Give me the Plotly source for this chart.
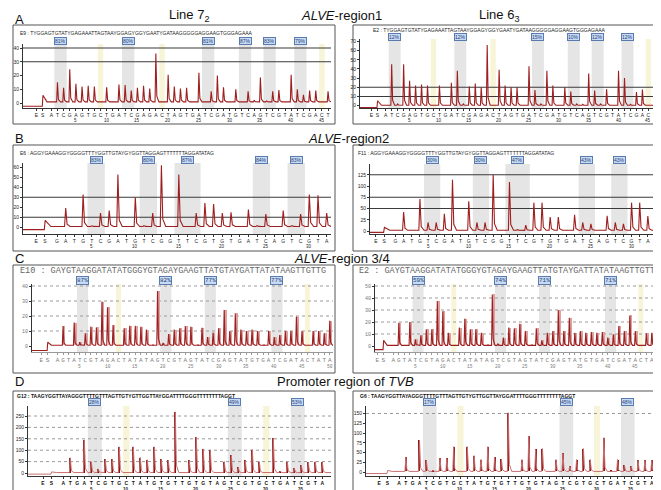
import plotly.graph_objects as go

W, H = 661, 490

# ---------------- data ----------------
disp_A = "ATCGAGTGCTGATCGAGACTAGTGATCGATGTCAGTCGTATCGACT"
disp_B = "GATGTCGATGTCGGTTCGTGTGATCAGTCGTA"
disp_C = "AGTATCGTAGACTATATAGTCGTAGTATCGAGTATGTGATCGATACTATA"
disp_D = "ATGATCGTGCTATGTGTTGTGTAGTCGTGCTGATCGTA"

peaks_A_72 = [0, 15, 11, 24.5, 14, 12, 12.5, 12, 0, 11.5, 0, 13.5, 13, 9, 11, 12.5, 10.5, 36, 0, 20.5,
              12, 10.5, 11, 0, 22, 0.5, 8.5, 20, 11.5, 0, 10, 0, 8.5, 2, 18.5, 1.5, 8.5, 9.5, 0, 20.5,
              10, 6, 9, 9, 0, 8.5]
peaks_A_63 = [0, 45, 2, 45, 27, 22, 23, 22, 0, 22, 0, 25, 38, 2, 21, 24, 20, 66, 0, 39,
              22, 20, 20, 0, 43, 17, 2, 38, 22, 0, 20, 15.5, 2, 1.5, 35, 16.5, 2, 18, 0, 38,
              30, 1.5, 15, 17.5, 0, 16.5]
peaks_B_72 = [0, 19.3, 0, 32.7, 1.5, 14.3, 16.7, 52.7, 0, 30, 1.7, 14.3, 62, 0, 52.7, 1.5, 14.3, 24.3, 23.3, 14.3,
              15, 0, 17.7, 1.7, 13.3, 0, 16.7, 1.7, 13.3, 32.7, 32, 14.3]
peaks_B_63 = [0, 42, 0, 71, 19, 19, 38, 114, 0, 66, 19, 19, 125, 0, 109, 3, 13, 63, 63, 31,
              31, 0, 36, 19, 16, 0, 34, 19, 16, 63, 63, 33]
peaks_C_72 = [0, 13.3, 0, 15.6, 2.5, 8.4, 12.9, 12.4, 29.6, 25.8, 14, 0, 11.8, 13.5, 13.5, 12.9, 11, 1, 36.7, 2,
              8, 11, 11.8, 13.3, 12.9, 1, 12.2, 6, 8.9, 11.8, 24, 10, 21.8, 11, 10, 11, 10, 1, 10, 6,
              7.3, 10, 10, 19.6, 10, 0, 10, 10, 8.4, 16.9]
peaks_C_63 = [0, 19.4, 0, 20, 5.5, 9, 13.9, 13.9, 37.5, 29, 11, 0, 15.3, 22.8, 13.9, 13.9, 11, 1, 43, 2,
              7, 15.3, 14.7, 18.6, 12.5, 1, 14.7, 4.7, 11, 12.5, 30, 12.5, 23.6, 11, 12.5, 11, 11.7, 11, 11.7, 7,
              9.7, 16.7, 12.5, 25.5, 12.5, 0, 10.5, 11, 9.7, 16.7]
peaks_D_72 = [0, 67, 0, 145, 50, 18, 60, 60, 115, 0, 115, 68, 58, 115, 60, 57, 268, 0, 55, 158,
              105, 100, 0, 50, 78, 25, 55, 103, 50, 0, 152, 8, 48, 22, 35, 48, 50, 48]
peaks_D_63 = [0, 38, 0, 82, 30, 5, 35, 35, 65, 0, 65, 42, 32, 65, 38, 33, 152, 0, 32, 92,
              58, 60, 0, 32, 48, 15, 32, 60, 32, 0, 88, 3, 32, 18, 15, 30, 30, 30]

# baseline before run, substrate (S) step peak, baseline after
start_A_72 = [-2.4, 5.6, 0.8]
start_A_63 = [-2, 5.4, 0.5]
start_B_72 = [-2.3, 7, 0.8]
start_B_63 = [-3, 8, 1.5]
start_C_72 = [-3, 2.5, 0.5]
start_C_63 = [-3, 4.7, 0.5]
start_D_72 = [-5, 5, 2]
start_D_63 = [-4, 4, 1.5]

cpg_A = [(2, 3), (13, 14), (26, 27), (32, 33), (36, 37), (41, 42)]
ctrl_A = [9, 19, 45]
cpg_B = [(5, 6), (11, 12), (15, 17), (24, 25), (28, 29)]
ctrl_B = []
cpg_C = [(5, 6), (20, 21), (28, 29), (40, 41)]
ctrl_C = [12, 46]
cpg_D = [(5, 6), (25, 26), (34, 35)]
ctrl_D = [10, 30]

pct_A_72 = ["81%", "80%", "81%", "87%", "83%", "79%"]
pct_A_63 = ["12%", "12%", "15%", "10%", "12%", "12%"]
pct_B_72 = ["83%", "80%", "87%", "84%", "83%"]
pct_B_63 = ["30%", "30%", "47%", "43%", "43%"]
pct_C_72 = ["87%", "82%", "77%", "77%"]
pct_C_63 = ["59%", "74%", "71%", "71%"]
pct_D_72 = ["28%", "49%", "53%"]
pct_D_63 = ["17%", "45%", "48%"]

seq_A_72 = "E9 : TYGGAGTGTATYGAGAAATTAGTAAYGGAGYGGYGAATYGATAAGGGGGAGGAAGTGGGAGAAA"
seq_A_63 = "E2 : TYGGAGTGTATYGAGAAATTAGTAAYGGAGYGGYGAATYGATAAGGGGGAGGAAGTGGGAGAAA"
seq_B_72 = "E6 : AGGYGAAAGGYGGGGTTTYGGTTGTAYGYGGTTAGGAGTTTTTTTAGGATATAG"
seq_B_63 = "F11 : AGGYGAAAGGYGGGGTTTYGGTTGTAYGYGGTTAGGAGTTTTTTTAGGATATAG"
seq_C_72 = "E10 : GAYGTAAGGATATATGGGYGTAGAYGAAGTTATGTAYGATTATATAAGTTGTTG"
seq_C_63 = "E2 : GAYGTAAGGATATATGGGYGTAGAYGAAGTTATGTAYGATTATATAAGTTGTTG"
seq_D_72 = "G12 : TAAGYGGTTAYAGGGTTTTGTTTAGTTGTYGTTGGTTAYGGATTTTGGGTTTTTTTTAGGT"
seq_D_63 = "G6 : TAAGYGGTTAYAGGGTTTTGTTTAGTTGTYGTTGGTTAYGGATTTTGGGTTTTTTTTAGGT"

yt_A_72 = [0, 10, 20, 30, 40]
yt_A_63 = [0, 10, 20, 30, 40, 50, 60, 70]
yt_B_72 = [0, 10, 20, 30, 40, 50, 60]
yt_B_63 = [0, 25, 50, 75, 100, 125]
yt_C_72 = [0, 10, 20, 30, 40]
yt_C_63 = [0, 10, 20, 30, 40, 50]
yt_D_72 = [0, 50, 100, 150, 200, 250]
yt_D_63 = [0, 25, 50, 75, 100, 125, 150]

lines_A_72 = [30, 40]
lines_A_63 = [10, 20]
lines_B_72 = [10, 30]
lines_B_63 = [50, 75, 125]
lines_C_72 = [10, 20, 30, 40]
lines_C_63 = [10, 20, 30, 40, 50]
lines_D_72 = [50, 100, 150, 200, 250]
lines_D_63 = [150]

nums_A = [5, 10, 15, 20, 25, 30, 35, 40, 45]
nums_B = [5, 10, 15, 20, 25, 30]
nums_C = [5, 10, 15, 20, 25, 30, 35, 40, 45, 50]
nums_D = [5, 10, 15, 20, 25, 30, 35]

# ---------------- layout geometry (pixels) ----------------
panels = [
    dict(disp=disp_A, peaks=peaks_A_72, start=start_A_72, cpg=cpg_A, ctrl=ctrl_A, pct=pct_A_72, seq=seq_A_72,
         yt=yt_A_72, lines=lines_A_72, nums=nums_A, style="AB",
         box=(5, 327, 17, 116), plot=(15, 323, 36, 100), p1=43.3, pitch=6.15, y0=95, ppu=1.375,
         seqxy=(10, 25), pcty=33, numy=112.5, es=(-1.4, -0.4)),
    dict(disp=disp_A, peaks=peaks_A_63, start=start_A_63, cpg=cpg_A, ctrl=ctrl_A, pct=pct_A_63, seq=seq_A_63,
         yt=yt_A_63, lines=lines_A_63, nums=nums_A, style="AB",
         box=(345, 657, 17, 116), plot=(352, 651, 31, 100), p1=377.7, pitch=5.97, y0=97.7, ppu=0.919,
         seqxy=(363, 22), pcty=29, numy=112.5, es=(-1.4, -0.4)),
    dict(disp=disp_B, peaks=peaks_B_72, start=start_B_72, cpg=cpg_B, ctrl=ctrl_B, pct=pct_B_72, seq=seq_B_72,
         yt=yt_B_72, lines=lines_B_72, nums=nums_B, style="AB",
         box=(5, 327, 137, 243), plot=(15, 323, 155, 226), p1=49, pitch=8.7, y0=219.3, ppu=1.0,
         seqxy=(10, 145), pcty=152, numy=238, es=(-1.4, -0.4)),
    dict(disp=disp_B, peaks=peaks_B_63, start=start_B_63, cpg=cpg_B, ctrl=ctrl_B, pct=pct_B_63, seq=seq_B_63,
         yt=yt_B_63, lines=lines_B_63, nums=nums_B, style="AB",
         box=(345, 657, 137, 243), plot=(362, 651, 156, 226), p1=387.5, pitch=8.14, y0=223, ppu=0.45,
         seqxy=(348, 145), pcty=152, numy=238, es=(-1.4, -0.4)),
    dict(disp=disp_C, peaks=peaks_C_72, start=start_C_72, cpg=cpg_C, ctrl=ctrl_C, pct=pct_C_72, seq=seq_C_72,
         yt=yt_C_72, lines=lines_C_72, nums=nums_C, style="C",
         box=(5, 327, 257, 365), plot=(24, 325, 276, 344), p1=49.5, pitch=5.556, y0=338, ppu=1.5,
         seqxy=(10, 263), pcty=272, numy=358, es=(-1.9, -0.8)),
    dict(disp=disp_C, peaks=peaks_C_63, start=start_C_63, cpg=cpg_C, ctrl=ctrl_C, pct=pct_C_63, seq=seq_C_63,
         yt=yt_C_63, lines=lines_C_63, nums=nums_C, style="C",
         box=(345, 657, 257, 365), plot=(367, 654, 276, 344), p1=385.3, pitch=5.5, y0=338, ppu=1.2,
         seqxy=(349, 263), pcty=272, numy=358, es=(-1.9, -0.8)),
    dict(disp=disp_D, peaks=peaks_D_72, start=start_D_72, cpg=cpg_D, ctrl=ctrl_D, pct=pct_D_72, seq=seq_D_72,
         yt=yt_D_72, lines=lines_D_72, nums=nums_D, style="D",
         box=(5, 327, 383, 489), plot=(20, 323, 398, 468), p1=55.3, pitch=7.0, y0=465, ppu=0.228,
         seqxy=(7, 388), pcty=394, numy=481.5, es=(-1.9, -0.7)),
    dict(disp=disp_D, peaks=peaks_D_63, start=start_D_63, cpg=cpg_D, ctrl=ctrl_D, pct=pct_D_63, seq=seq_D_63,
         yt=yt_D_63, lines=lines_D_63, nums=nums_D, style="D",
         box=(345, 657, 383, 489), plot=(358, 652, 398, 468), p1=391, pitch=6.83, y0=464, ppu=0.39,
         seqxy=(350, 388), pcty=394, numy=481.5, es=(-1.9, -0.7)),
]

FONT = "Liberation Sans, Arial, sans-serif"
MONO = "Liberation Mono, Courier New, monospace"
RED = "#9e1f1f"
PINK = "#dfa0a0"


def fx(px):
    return px / W


def fy(py):
    return 1 - py / H


def pyro_xy(peaks, start, s_pos, x_lo, x_hi):
    pre, s_peak, base = start
    xs = [x_lo, s_pos - 0.06, s_pos + 0.04, s_pos + 0.7]
    ys = [pre, pre, s_peak, base]
    for i, h in enumerate(peaks, start=1):
        if h > base + 0.2:
            xs += [i - 0.13, i, i + 0.16, i + 0.5]
            ys += [base, h, base + 0.12 * (h - base), base]
    xs.append(x_hi)
    ys.append(base)
    return xs, ys


fig = go.Figure()
shapes, annotations = [], []
layout_axes = {}

for k, P in enumerate(panels, start=1):
    sx = "" if k == 1 else str(k)
    xref, yref = "x" + sx, "y" + sx
    px0, px1, py0, py1 = P["plot"]
    xr = [(px0 - P["p1"]) / P["pitch"] + 1, (px1 - P["p1"]) / P["pitch"] + 1]
    yr = [(P["y0"] - py1) / P["ppu"], (P["y0"] - py0) / P["ppu"]]
    n = len(P["disp"])
    E, S = P["es"]
    style = P["style"]

    if style == "C":
        tf = dict(family=MONO, size=6, color="#808080")
        tick_color = "#999"
    elif style == "D":
        tf = dict(family=FONT, size=5, color="#111", weight="bold")
        tick_color = "#333"
    else:
        tf = dict(family=FONT, size=5, color="#222")
        tick_color = "#333"

    layout_axes["xaxis" + sx] = dict(
        domain=[fx(px0), fx(px1)], range=xr, anchor=yref, showgrid=False, zeroline=False,
        showline=True, linecolor=tick_color, linewidth=1, ticks="outside", ticklen=2, tickcolor=tick_color,
        tickvals=[E, S] + list(range(1, n + 1)), ticktext=["E", "S"] + list(P["disp"]),
        tickfont=tf, tickangle=0, ticklabelstandoff=0, fixedrange=True)
    layout_axes["yaxis" + sx] = dict(
        domain=[fy(py1), fy(py0)], range=yr, anchor=xref, showgrid=False, zeroline=False,
        showline=True, linecolor="#333", linewidth=1, ticks="outside", ticklen=2, tickcolor="#333",
        tickvals=P["yt"], tickfont=dict(family=MONO if style == "C" else FONT, size=5,
                                        color="#777" if style == "C" else "#222"),
        fixedrange=True)

    # panel frame
    shapes.append(dict(type="rect", xref="paper", yref="paper",
                       x0=fx(P["box"][0]), x1=fx(P["box"][1]), y0=fy(P["box"][3]), y1=fy(P["box"][2]),
                       line=dict(color="#555", width=1), fillcolor="rgba(0,0,0,0)", layer="below"))
    # CpG (grey) and control (yellow) bands
    for (a, b) in P["cpg"]:
        shapes.append(dict(type="rect", xref=xref, yref=yref + " domain", x0=a - 0.5, x1=b + 0.5, y0=0, y1=1,
                           fillcolor="#e5e5e5", line=dict(width=0), layer="below"))
    for c in P["ctrl"]:
        shapes.append(dict(type="rect", xref=xref, yref=yref + " domain", x0=c - 0.45, x1=c + 0.45, y0=0, y1=1,
                           fillcolor="#f8f4d8", line=dict(width=0), layer="below"))
    # horizontal reference lines
    for v in P["lines"]:
        if style == "AB":
            ln = dict(color="#3a3a3a", width=1.1)
        else:
            ln = dict(color="#9a9a9a", width=1, dash="dot")
        shapes.append(dict(type="line", xref=xref + " domain", yref=yref, x0=0, x1=1, y0=v, y1=v,
                           line=ln, layer="below"))

    # pyrogram trace
    xs, ys = pyro_xy(P["peaks"], P["start"], S, xr[0], xr[1])
    if style == "D":
        fig.add_trace(go.Bar(x=list(range(1, n + 1)), y=[max(h - P["start"][2], 0) for h in P["peaks"]],
                             base=P["start"][2], width=0.16, marker=dict(color="#8c1010", line=dict(width=0)),
                             xaxis=xref, yaxis=yref, showlegend=False, hoverinfo="skip"))
        fig.add_trace(go.Scatter(x=xs, y=ys, mode="lines", line=dict(color="#c97070", width=1),
                                 xaxis=xref, yaxis=yref, showlegend=False, hoverinfo="skip"))
    elif style == "C":
        fig.add_trace(go.Bar(x=[i + 0.28 for i in range(1, n + 1)],
                             y=[max(h - P["start"][2], 0) for h in P["peaks"]],
                             base=P["start"][2], width=0.3, marker=dict(color=PINK, line=dict(width=0)),
                             xaxis=xref, yaxis=yref, showlegend=False, hoverinfo="skip"))
        fig.add_trace(go.Scatter(x=xs, y=ys, mode="lines", line=dict(color=RED, width=1.1),
                                 xaxis=xref, yaxis=yref, showlegend=False, hoverinfo="skip"))
    else:
        fig.add_trace(go.Scatter(x=xs, y=ys, mode="lines", line=dict(color=RED, width=1.1),
                                 xaxis=xref, yaxis=yref, showlegend=False, hoverinfo="skip"))

    # sequence text
    if style == "C":
        sf = dict(family=MONO, size=8.5, color="#666")
    elif style == "D":
        sf = dict(family=FONT, size=5, color="#111", weight="bold")
    else:
        sf = dict(family=FONT, size=5, color="#222")
    annotations.append(dict(xref="paper", yref="paper", x=fx(P["seqxy"][0]), y=fy(P["seqxy"][1]),
                            text=P["seq"], showarrow=False, xanchor="left", yanchor="middle", font=sf))
    # percentage labels
    for (a, b), t in zip(P["cpg"], P["pct"]):
        annotations.append(dict(xref=xref, yref="paper", x=(a + b) / 2, y=fy(P["pcty"]), text=t,
                                showarrow=False, xanchor="center", yanchor="middle",
                                font=dict(family=MONO if style == "C" else FONT,
                                          size=6 if style == "C" else 5, color="#1d3f7a"),
                                bgcolor="#c8dbf3", bordercolor="#5a7bb0", borderwidth=1, borderpad=0))
    # dispensation numbers
    for m in P["nums"]:
        annotations.append(dict(xref=xref, yref="paper", x=m, y=fy(P["numy"]), text=str(m),
                                showarrow=False, xanchor="center", yanchor="middle",
                                font=dict(family=MONO if style == "C" else FONT,
                                          size=4.5,
                                          color="#777" if style == "C" else "#222",
                                          weight="bold" if style == "D" else "normal")))

# titles
titles = [
    ("A", 5, 12, "left"), ("Line 7<sub>2</sub>", 181, 8, "center"), ("<i>ALVE</i>-region1", 333, 8, "center"),
    ("Line 6<sub>3</sub>", 491, 8, "center"),
    ("B", 5, 130, "left"), ("<i>ALVE</i>-region2", 340, 130, "center"),
    ("C", 5, 250, "left"), ("<i>ALVE</i>-region 3/4", 334, 250, "center"),
    ("D", 5, 373, "left"), ("Promoter region of <i>TVB</i>", 337, 373, "center"),
]
for t, x, y, anc in titles:
    annotations.append(dict(xref="paper", yref="paper", x=fx(x), y=fy(y), text=t, showarrow=False,
                            xanchor=anc, yanchor="middle", font=dict(family=FONT, size=13, color="#111")))

fig.update_layout(width=W, height=H, margin=dict(l=0, r=0, t=0, b=0), paper_bgcolor="white",
                  plot_bgcolor="rgba(0,0,0,0)", showlegend=False, shapes=shapes, annotations=annotations,
                  barmode="overlay", bargap=0, font=dict(family=FONT), **layout_axes)

fig.write_html("out.html")
